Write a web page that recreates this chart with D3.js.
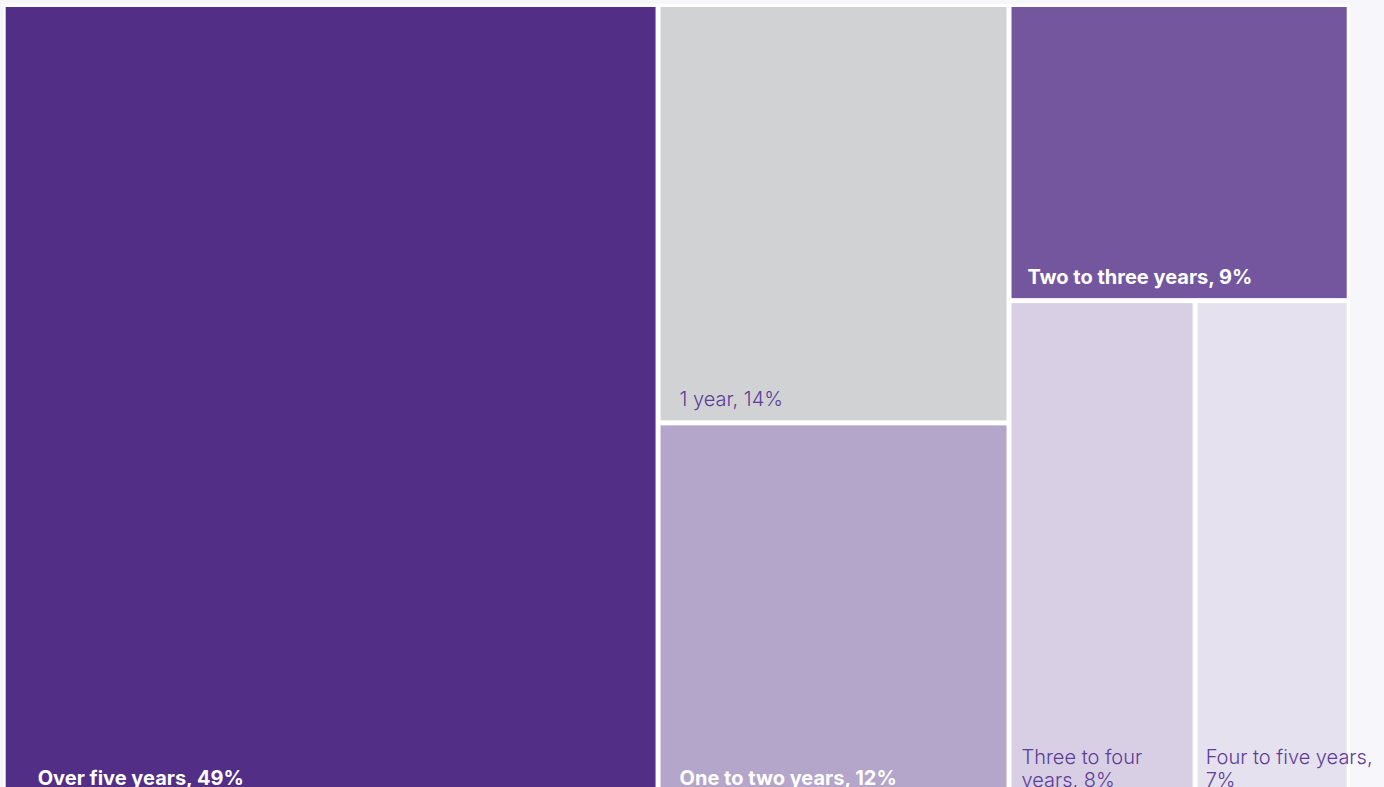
<!DOCTYPE html>
<html>
<head>
<meta charset="utf-8">
<script src="https://cdn.jsdelivr.net/npm/d3@7"></script>
<style>
  html, body { margin: 0; padding: 0; background: #f7f6fa; overflow: hidden; }
  #chart { position: absolute; left: 3px; top: 4px; width: 1347px; height: 800px; background: #fff; }
  text { font-family: Inter, "Liberation Sans", sans-serif; }
</style>
</head>
<body>
<div id="chart"></div>
<script>
// time categories and their share of the total (areas)
const categories = ["Over five years", "1 year", "One to two years", "Two to three years", "Three to four years", "Four to five years"];
const shares = [48.7, 13.7, 12.4, 9.4, 8.7, 7.2];
const pctLabels = [49, 14, 12, 9, 8, 7];
// which block each tile sits in
const groupOf = ["A", "B", "B", "C", "D", "D"];
const groupIds = ["A", "B", "C", "D"];
const groupParents = ["root", "root", "root", "C"];

const colors = ["#522e87", "#d1d2d4", "#b4a5cb", "#74569f", "#d8cfe4", "#e6e1ee"];
const textColors = ["#ffffff", "#5c3d99", "#ffffff", "#ffffff", "#5c3d99", "#5c3d99"];
const boldLabel = [true, false, true, true, false, false];

const width = 1341,
    height = 792;

const svg = d3.select("body")
    .append("svg")
    .attr("width", 1384)
    .attr("height", 787)
    .style("position", "absolute")
    .style("left", 0)
    .style("top", 0);

// build the nested table for stratify: top-level blocks, then tiles, then nested blocks
// (row order decides the order of children)
const rows = [{ id: "root", parent: null }];
groupIds.forEach((g, i) => { if (groupParents[i] === "root") rows.push({ id: g, parent: "root" }); });
categories.forEach((c, i) => rows.push({ id: c, parent: groupOf[i], value: shares[i], i: i }));
groupIds.forEach((g, i) => { if (groupParents[i] !== "root") rows.push({ id: g, parent: groupParents[i] }); });

const root = d3.stratify()
    .id(d => d.id)
    .parentId(d => d.parent)(rows)
    .sum(d => d.value || 0);

d3.treemap()
    .tile(d3.treemapSliceDice)
    .size([width, height])
    .paddingInner(5)(root);

const g = svg.append("g").attr("transform", "translate(5.7,7)");

const cell = g.selectAll("g")
    .data(root.leaves())
    .join("g")
    .attr("transform", d => `translate(${d.x0},${d.y0})`);

cell.append("rect")
    .attr("width", d => d.x1 - d.x0)
    .attr("height", d => d.y1 - d.y0)
    .attr("fill", d => colors[d.data.i]);

// labels sit at the bottom left, wrapped when the tile is narrow
cell.each(function (d) {
    const i = d.data.i;
    const w = d.x1 - d.x0, h = d.y1 - d.y0;
    const pad = Math.round(Math.min(Math.min(w, h) * 0.055, 32));
    const maxW = Math.max(w - 2 * pad, 178);
    const t = d3.select(this).append("text")
        .attr("fill", textColors[i])
        .attr("font-size", 20)
        .attr("font-weight", boldLabel[i] ? 700 : 300);

    const words = `${categories[i]}, ${pctLabels[i]}%`.split(" ");
    const lines = [];
    let line = [];
    const probe = t.append("tspan");
    for (const wd of words) {
        line.push(wd);
        probe.text(line.join(" "));
        if (probe.node().getComputedTextLength() > maxW && line.length > 1) {
            line.pop();
            lines.push(line.join(" "));
            line = [wd];
        }
    }
    lines.push(line.join(" "));
    probe.remove();

    const lh = 23;
    const base = lines.length > 1 ? h - 12 : h - 14;
    lines.forEach((l, k) => {
        t.append("tspan")
            .attr("x", pad)
            .attr("y", base - (lines.length - 1 - k) * lh)
            .text(l);
    });
});
</script>
</body>
</html>
